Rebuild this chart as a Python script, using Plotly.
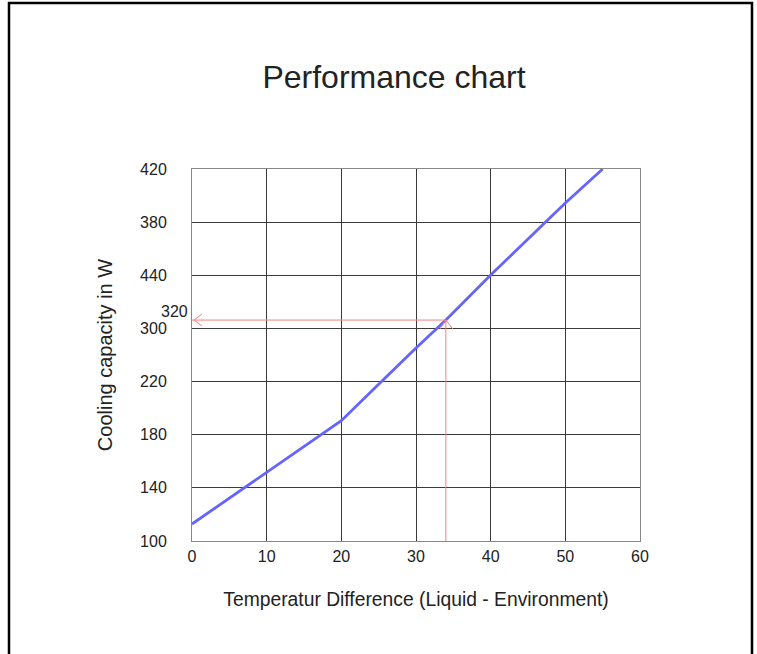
import plotly.graph_objects as go

# Curve data
temp_diff = [0, 10, 17, 20, 25, 30, 34, 40, 50, 55]
cooling = [112.8, 151.9, 179.0, 190.5, 218.0, 245.3, 266.3, 300.2, 354.4, 380.0]

# Y axis ticks (labels as printed on the original)
y_tickvals = [100, 140, 180, 220, 260, 300, 340, 380]
y_ticktext = ["100", "140", "180", "220", "300", "440", "380", "420"]
x_tickvals = [0, 10, 20, 30, 40, 50, 60]

# Reading example
read_x = 34
read_y = 266.3
read_label = "320"

fig = go.Figure()
fig.add_trace(go.Scatter(x=temp_diff, y=cooling, mode="lines",
                         line=dict(color="#6464ff", width=2.8),
                         hoverinfo="skip", showlegend=False))

red = "#f48080"
fig.add_shape(type="line", x0=read_x, x1=read_x, y0=100, y1=read_y,
              line=dict(color=red, width=1))
fig.add_shape(type="line", x0=0, x1=read_x, y0=read_y, y1=read_y,
              line=dict(color=red, width=1))
fig.add_shape(type="path", xref="x", yref="y", xsizemode="pixel", ysizemode="pixel",
              xanchor=0, yanchor=read_y,
              path="M 10,6 L 2,0 L 10,-6", line=dict(color=red, width=1))
fig.add_shape(type="path", xref="x", yref="y", xsizemode="pixel", ysizemode="pixel",
              xanchor=read_x, yanchor=read_y,
              path="M -6,-9 L 0,0 L 7,-9", line=dict(color=red, width=1))

font = "Liberation Sans, Arial, sans-serif"

fig.add_annotation(x=0, y=read_y, xref="x", yref="y", text=read_label,
                   showarrow=False, xanchor="right", yanchor="bottom",
                   xshift=-2, yshift=-2,
                   font=dict(family=font, size=16, color="#222"))

W, H = 757, 654
L, T, PW, PH = 192, 169, 448, 372
# outer frame
fig.add_shape(type="rect", xref="paper", yref="paper",
              x0=(9 - L) / PW, x1=(752 - L) / PW,
              y0=(T + PH - 680) / PH, y1=(T + PH - 3) / PH,
              line=dict(color="black", width=2.5), fillcolor="rgba(0,0,0,0)",
              layer="below")

fig.update_layout(
    width=W, height=H,
    margin=dict(l=L, r=W - L - PW, t=T, b=H - T - PH),
    paper_bgcolor="white", plot_bgcolor="white",
    title=dict(text="Performance chart", x=(394 - L) / PW, xref="paper",
               xanchor="center", y=1 - 77 / H, yanchor="middle",
               font=dict(family=font, size=32, color="#222")),
    font=dict(family=font, color="#222"),
    xaxis=dict(range=[0, 60], tickvals=x_tickvals, showgrid=True,
               gridcolor="#3a3a3a", gridwidth=1, zeroline=False,
               showline=True, linecolor="#888", linewidth=1, mirror=True,
               ticks="", ticklabelstandoff=1,
               tickfont=dict(family=font, size=16, color="#222"),
               title=dict(text="Temperatur Difference (Liquid - Environment)",
                          font=dict(family=font, size=19.3, color="#222"),
                          standoff=28)),
    yaxis=dict(range=[100, 380], tickvals=y_tickvals, ticktext=y_ticktext,
               showgrid=True, gridcolor="#3a3a3a", gridwidth=1, zeroline=False,
               showline=True, linecolor="#888", linewidth=1, mirror=True,
               ticks="", ticklabelstandoff=21,
               tickfont=dict(family=font, size=16, color="#222"),
               title=dict(text="Cooling capacity in W",
                          font=dict(family=font, size=20, color="#222"),
                          standoff=22)),
)

fig.write_html("out.html", config={"displayModeBar": False},
               post_script="document.body.style.margin='0';document.body.style.overflow='hidden';")
